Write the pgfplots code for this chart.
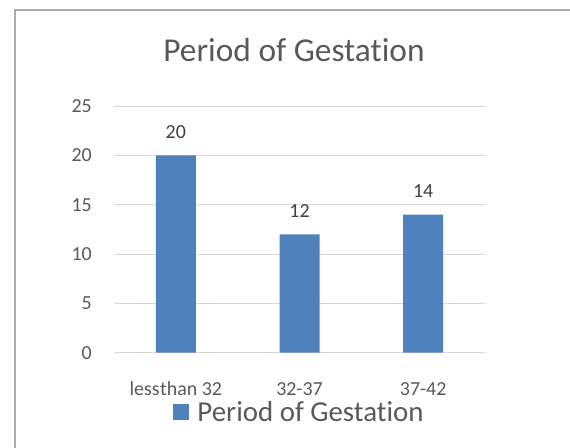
\documentclass[border=0pt]{standalone}
\usepackage{fontspec}
\setmainfont{Carlito}[Ligatures=NoCommon]
\usepackage{pgfplots}
\pgfplotsset{compat=1.18}
\definecolor{barblue}{HTML}{4F81BD}
\definecolor{txtgray}{HTML}{595959}
\definecolor{lbldark}{HTML}{404040}
\definecolor{gridgray}{HTML}{D9D9D9}
\definecolor{bordergray}{HTML}{ABABAB}
\begin{document}
\begin{tikzpicture}[x=1bp,y=1bp]
\path[use as bounding box] (0,0) rectangle (570,448);
\draw[bordergray, line width=1.3bp] (15,0) -- (15,438) -- (570,438);
\node[anchor=base, font=\fontsize{33.5}{40}\selectfont, text=txtgray, inner sep=0] at (294,386.3) {Period of Gestation};
\begin{axis}[
  at={(114bp,95.3bp)}, anchor=south west,
  scale only axis, width=371bp, height=246.7bp,
  ybar, bar width=40bp,
  xmin=-0.5, xmax=2.5, ymin=0, ymax=25,
  ytick={0,5,10,15,20,25},
  xtick={0,1,2}, xticklabels={less\hspace{0.02em}than 32, 32-37, 37-42},
  axis line style={draw=none},
  major tick length=0,
  ymajorgrids, grid style={gridgray, line width=0.9bp},
  tick label style={font=\fontsize{20}{24}\selectfont, text=txtgray},
  /pgf/number format/assume math mode=true,
  xticklabel style={anchor=base, inner sep=0pt, yshift=-43.3bp},
  yticklabel style={anchor=east, inner sep=0pt, xshift=-22bp},
  nodes near coords,
  nodes near coords style={font=\fontsize{20}{24}\selectfont, text=lbldark, anchor=base, inner sep=0pt, yshift=17bp},
  legend style={at={(0.5,-0.24)}, anchor=center, draw=none, fill=none,
    font=\fontsize{29}{34}\selectfont, text=txtgray, inner sep=0pt},
  legend image code/.code={\fill[barblue] (0bp,-7.8bp) rectangle (15.6bp,7.8bp); \path (22bp,0bp);},
]
\addplot[fill=barblue, draw=none] coordinates {(0,20) (1,12) (2,14)};
\legend{Period of Gestation}
\end{axis}
\end{tikzpicture}
\end{document}
